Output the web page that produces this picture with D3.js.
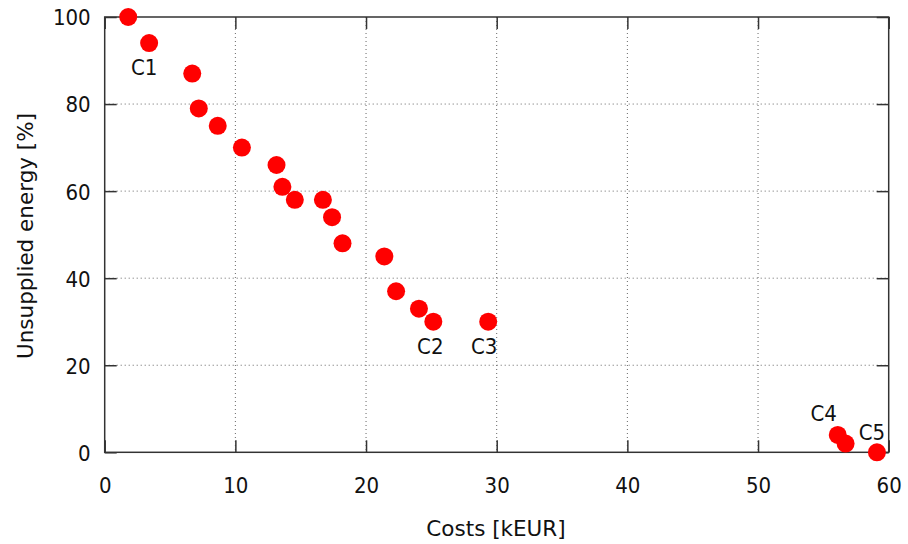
<!DOCTYPE html>
<html><head><meta charset="utf-8">
<script src="https://cdn.jsdelivr.net/npm/d3@7"></script>
<style>body{margin:0;background:#fff}text{font-family:"DejaVu Sans Condensed","DejaVu Sans",sans-serif}</style>
</head><body><svg id="c" width="908" height="544"></svg>
<script>
const costs = [1.8, 3.4, 6.7, 7.2, 8.65, 10.5, 13.15, 13.6, 14.55, 16.7, 17.4, 18.2, 21.4, 22.3, 24.05, 25.15, 29.35, 56.1, 56.7, 59.1];
const unsupplied = [100, 94, 87, 79, 75, 70, 66, 61, 58, 58, 54, 48, 45, 37, 33, 30, 30, 4, 2, 0];
const labelNames = ["C1", "C2", "C3", "C4", "C5"];
const labelPoint = [1, 15, 16, 17, 19];
const xTicks = [0, 10, 20, 30, 40, 50, 60];
const yTicks = [0, 20, 40, 60, 80, 100];
const xTitle = "Costs [kEUR]";
const yTitle = "Unsupplied energy [%]";

// label offsets (layout, px) relative to point
const labelOffset = [[-5, 32], [-3, 32], [-4, 32], [-14, -14], [-5, -12]];

const svg = d3.select("#c");
const L = 104.7, R = 888.7, T = 17, B = 452.3;
const x = d3.scaleLinear().domain([0, 60]).range([L, R]);
const y = d3.scaleLinear().domain([0, 100]).range([B, T]);

const g = svg.append("g");
// grid
g.selectAll(".gx").data(xTicks.filter(v => v > 0 && v < 60)).join("line")
  .attr("x1", d => x(d)).attr("x2", d => x(d)).attr("y1", T).attr("y2", B)
  .attr("stroke", "#666").attr("stroke-width", 1).attr("stroke-dasharray", "1,3");
g.selectAll(".gy").data(yTicks.filter(v => v > 0 && v < 100)).join("line")
  .attr("x1", L).attr("x2", R).attr("y1", d => y(d)).attr("y2", d => y(d))
  .attr("stroke", "#666").attr("stroke-width", 1).attr("stroke-dasharray", "1,3");

// axes (ticks inward)
const ax = d3.axisBottom(x).tickValues(xTicks).tickSize(-12).tickPadding(0).tickFormat(d3.format("d"));
const axT = d3.axisTop(x).tickValues(xTicks).tickSize(-12).tickFormat("");
const ay = d3.axisLeft(y).tickValues(yTicks).tickSize(-12).tickPadding(0).tickFormat(d3.format("d"));
const ayR = d3.axisRight(y).tickValues(yTicks).tickSize(-12).tickFormat("");

function styleAxis(sel) {
  sel.select(".domain").remove();
  sel.selectAll(".tick line").attr("stroke", "#333").attr("stroke-width", 1.5);
  sel.selectAll("text").attr("fill", "#111").style("font-size", "22px");
}
const gx = svg.append("g").attr("transform", `translate(0,${B})`).call(ax).call(styleAxis);
gx.selectAll("text").attr("dy", null).attr("y", 41);
svg.append("g").attr("transform", `translate(0,${T})`).call(axT).call(styleAxis);
const gy = svg.append("g").attr("transform", `translate(${L},0)`).call(ay).call(styleAxis);
gy.selectAll("text").attr("x", -14).attr("dy", "0.36em");
svg.append("g").attr("transform", `translate(${R},0)`).call(ayR).call(styleAxis);

// frame
svg.append("rect").attr("x", L).attr("y", T).attr("width", R - L).attr("height", B - T)
  .attr("fill", "none").attr("stroke", "#333").attr("stroke-width", 1.5);

// points
const pts = costs.map((c, i) => ({c, u: unsupplied[i]}));
svg.append("g").selectAll("circle").data(pts).join("circle")
  .attr("cx", d => x(d.c)).attr("cy", d => y(d.u)).attr("r", 9).attr("fill", "#ff0000");

// labels
svg.append("g").selectAll("text").data(labelNames).join("text")
  .attr("x", (d, i) => x(costs[labelPoint[i]]) + labelOffset[i][0])
  .attr("y", (d, i) => y(unsupplied[labelPoint[i]]) + labelOffset[i][1])
  .attr("text-anchor", "middle").style("font-size", "22px").attr("fill", "#111").text(d => d);

// titles
svg.append("text").attr("x", 496).attr("y", 536).attr("text-anchor", "middle")
  .style("font-family", "'DejaVu Sans'").style("font-size", "21.5px").attr("fill", "#111").text(xTitle);
svg.append("text").attr("transform", `translate(33,236) rotate(-90)`).attr("text-anchor", "middle")
  .style("font-family", "'DejaVu Sans'").style("font-size", "21.5px").attr("fill", "#111").text(yTitle);
</script></body></html>
